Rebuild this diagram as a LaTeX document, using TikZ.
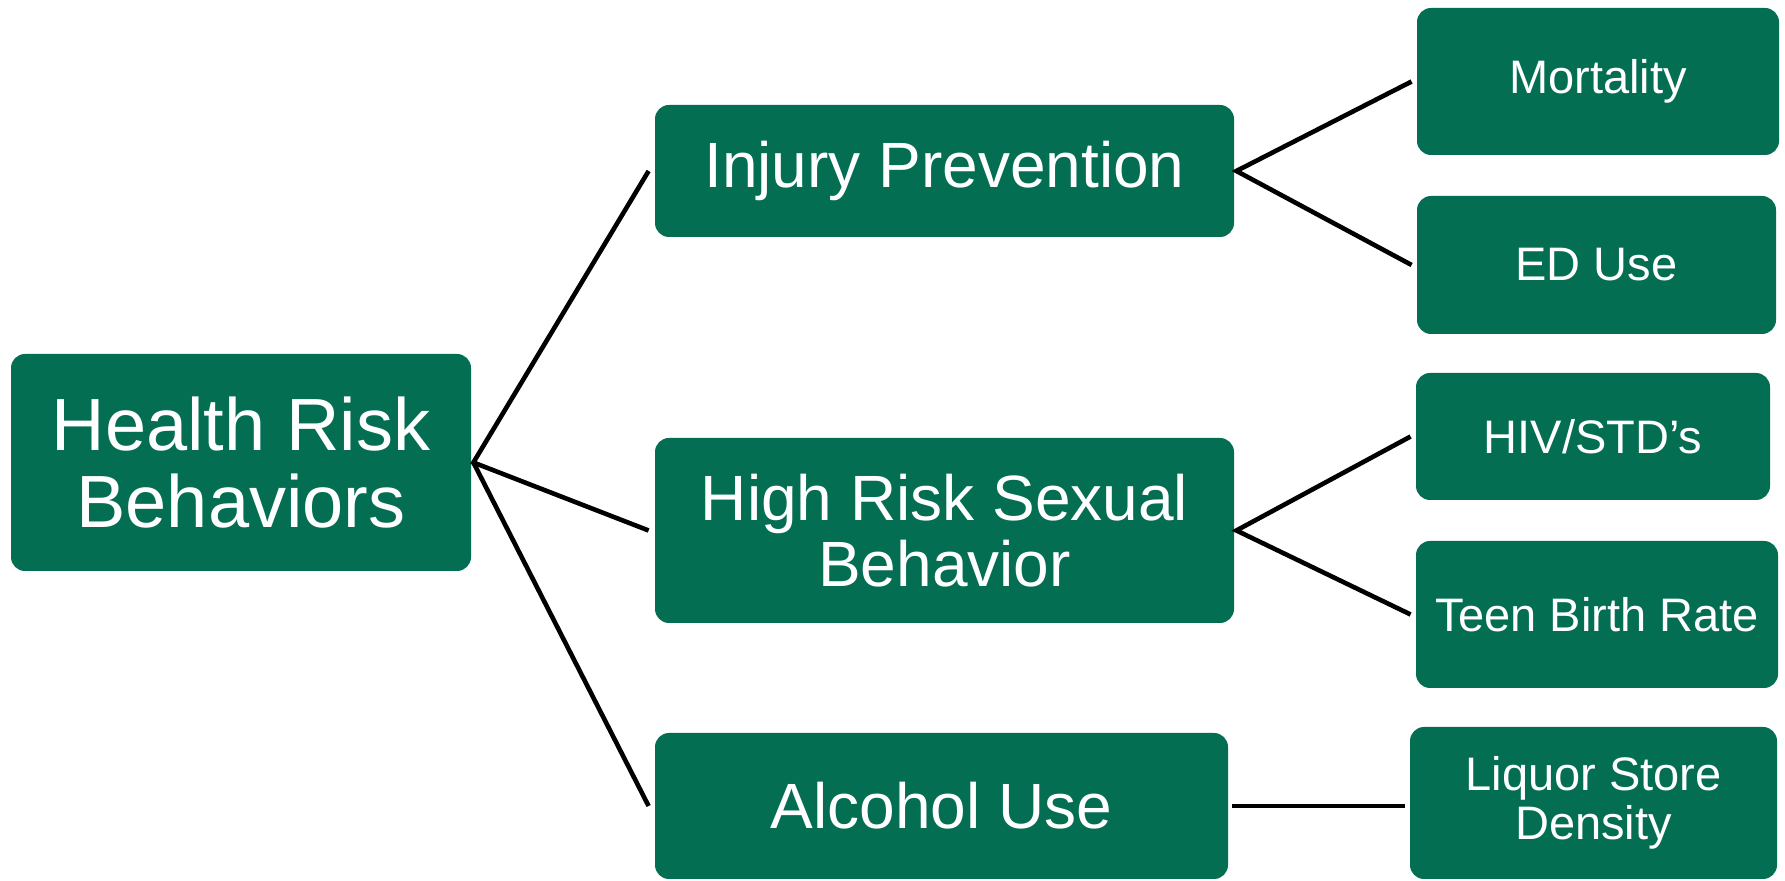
\documentclass[tikz,border=0pt]{standalone}
\usepackage{fontspec}
\setmainfont{Liberation Sans}
\definecolor{boxgreen}{RGB}{4,110,83}
\tikzset{
  gbox/.style={draw=none, fill=boxgreen, rounded corners=7pt, text=white, align=center, inner sep=0pt},
  bigtxt/.style={font=\fontsize{37}{38.2}\selectfont},
  midtxt/.style={font=\fontsize{32}{33}\selectfont},
  smalltxt/.style={font=\fontsize{23.5}{24.4}\selectfont},
  conn/.style={draw=black, line width=2.3pt}
}
\begin{document}
\begin{tikzpicture}[x=0.5pt,y=-0.5pt]
\useasboundingbox (0,0) rectangle (1785,881);
\node[gbox,bigtxt,minimum width=230pt,minimum height=108.5pt] (hrb) at (241,462.5) {Health Risk\\Behaviors};
\node[gbox,midtxt,minimum width=289.5pt,minimum height=66pt] (inj) at (944.5,171) {Injury Prevention};
\node[gbox,midtxt,minimum width=289.5pt,minimum height=92.5pt] (sex) at (944.5,530.5) {High Risk Sexual\\Behavior};
\node[gbox,midtxt,minimum width=286.5pt,minimum height=73pt] (alc) at (941.5,806) {Alcohol Use};
\node[gbox,smalltxt,minimum width=181pt,minimum height=73.5pt] (mort) at (1598,81.5) {Mortality};
\node[gbox,smalltxt,minimum width=179.5pt,minimum height=69pt] (ed) at (1596.5,265) {ED Use};
\node[gbox,smalltxt,minimum width=177pt,minimum height=63.5pt] (hiv) at (1593,436.5) {HIV/STD’s};
\node[gbox,smalltxt,minimum width=181pt,minimum height=73.5pt] (teen) at (1597,614.5) {Teen Birth Rate};
\node[gbox,smalltxt,minimum width=183.5pt,minimum height=76pt] (liq) at (1593.5,803) {Liquor Store\\Density};
\coordinate (liqin) at ([xshift=-2.5pt]liq.west |- alc.east);
\draw[conn] ([xshift=-3pt]inj.west) -- ([xshift=1pt]hrb.east) -- ([xshift=-3pt]sex.west);
\draw[conn] ([xshift=1pt]hrb.east) -- ([xshift=-3pt]alc.west);
\draw[conn] ([xshift=-2.5pt]mort.west) -- ([xshift=1pt]inj.east) -- ([xshift=-2.5pt]ed.west);
\draw[conn] ([xshift=-2.5pt]hiv.west) -- ([xshift=1pt]sex.east) -- ([xshift=-2.5pt]teen.west);
\draw[conn] ([xshift=2pt]alc.east) -- (liqin);
\end{tikzpicture}
\end{document}
